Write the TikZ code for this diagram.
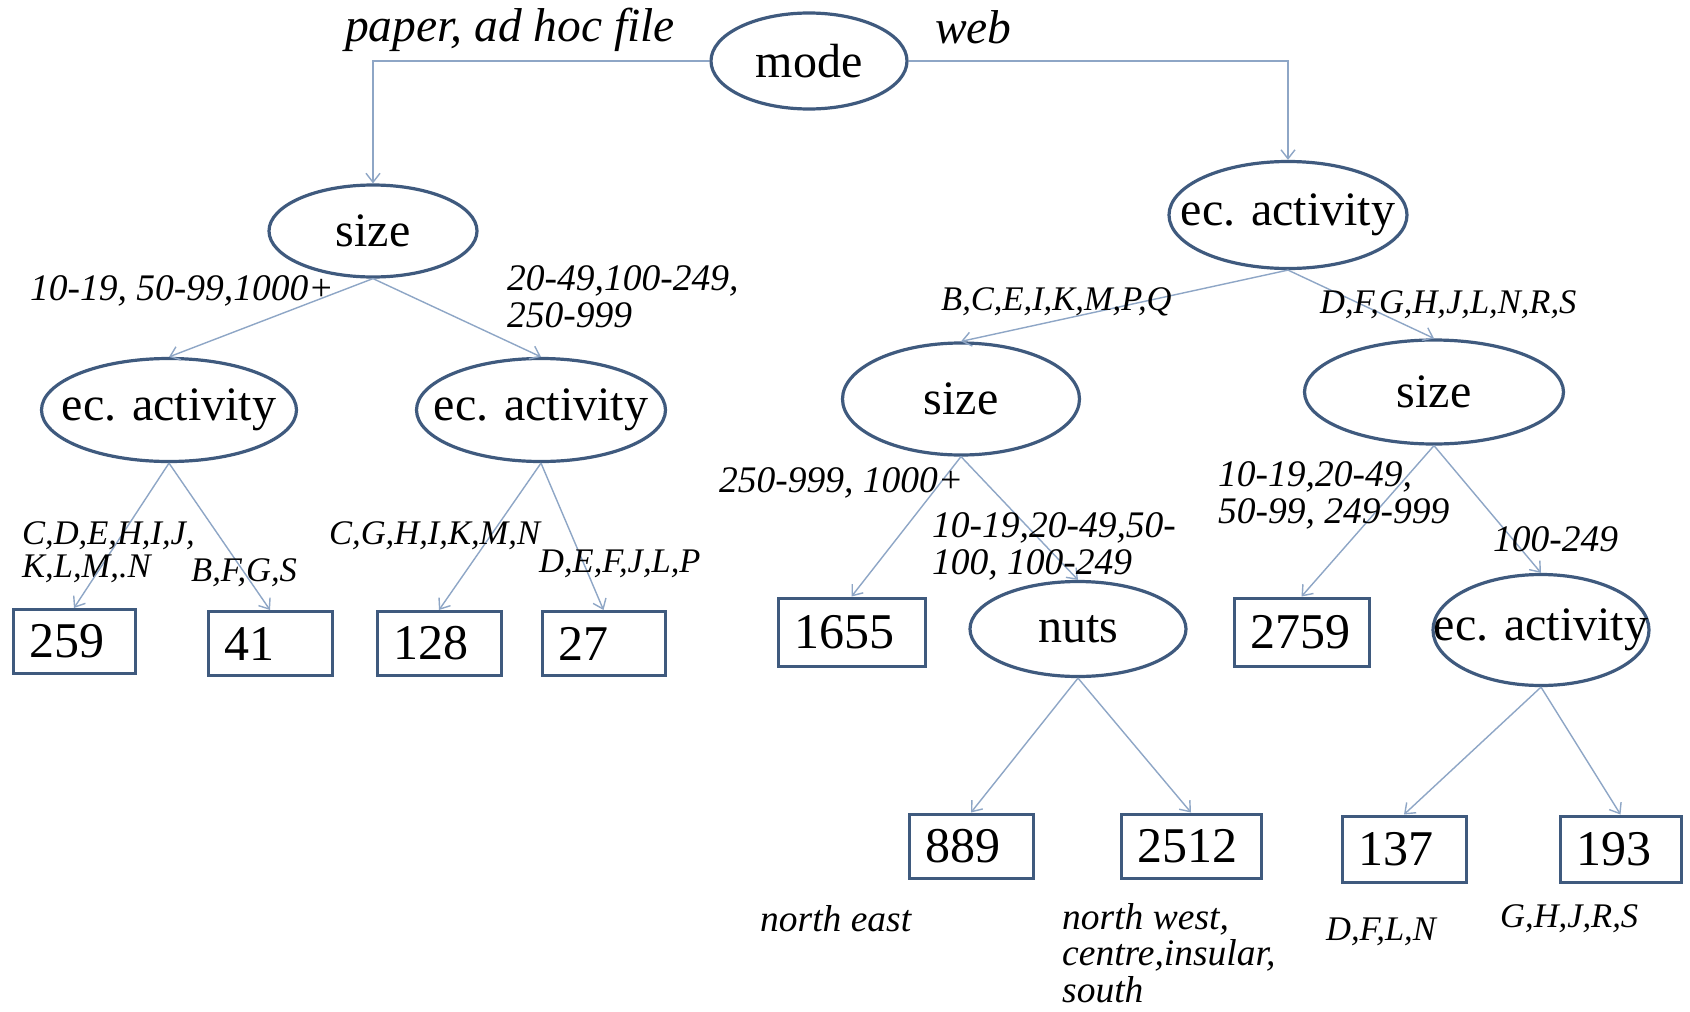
\documentclass[tikz,border=0pt]{standalone}
\usepackage{fontspec}
\setmainfont{Liberation Serif}
\usetikzlibrary{shapes.geometric,arrows.meta}
\definecolor{nodeline}{HTML}{3F5A7E}
\definecolor{connline}{HTML}{8EA6C6}
\newcommand{\zb}[1]{\makebox[0pt]{#1}}
\begin{document}
\begin{tikzpicture}[x=1pt,y=-1pt,
  ell/.style={draw=nodeline, line width=3.2pt, ellipse, inner sep=0pt, font=\fontsize{48}{48}\selectfont},
  leaf/.style={draw=nodeline, line width=3pt, rectangle, minimum height=64pt, inner xsep=16pt, inner ysep=0pt, text width=#1, align=left, font=\fontsize{50}{50}\selectfont},
  conn/.style={draw=connline, line width=1.4pt, -{Straight Barb[length=9pt,width=14pt]}},
  lblA/.style={anchor=west, inner sep=0pt, font=\fontsize{47.5}{47.5}\selectfont\itshape},
  lblB/.style={anchor=west, inner sep=0pt, align=left, font=\fontsize{37.5}{37.5}\selectfont\itshape},
  lblC/.style={anchor=west, inner sep=0pt, align=left, font=\fontsize{34.5}{33}\selectfont\itshape}
]
\useasboundingbox[fill=white] (0,0) rectangle (1690,1012);

% nodes
\node[ell, minimum width=196pt, minimum height=96pt] (mode) at (809,61) {\zb{mode}};
\node[ell, minimum width=208pt, minimum height=92pt] (sizeL) at (373,231) {\zb{size}};
\node[ell, minimum width=238pt, minimum height=107pt] (ecR) at (1288,215) {\zb{ec. activity}};
\node[ell, minimum width=255pt, minimum height=103pt] (ecL1) at (169,410) {\zb{ec. activity}};
\node[ell, minimum width=249pt, minimum height=103pt] (ecL2) at (541,410) {\zb{ec. activity}};
\node[ell, minimum width=237pt, minimum height=112pt] (sizeR1) at (961,399) {\zb{size}};
\node[ell, minimum width=259pt, minimum height=104pt] (sizeR2) at (1434,392) {\zb{size}};
\node[ell, minimum width=216pt, minimum height=95pt] (nuts) at (1078,629) {\zb{nuts}};
\node[ell, minimum width=216pt, minimum height=111pt] (ecR3) at (1541,630) {\zb{ec. activity}};

\node[leaf=90pt] (n259) at (74,641.5) {259};
\node[leaf=92pt] (n41) at (270,643.5) {41};
\node[leaf=92pt] (n128) at (439,643.5) {128};
\node[leaf=91pt] (n27) at (603.5,643.5) {27};
\node[leaf=115pt, minimum height=68pt] (n1655) at (851.5,632) {1655};
\node[leaf=103pt, minimum height=68pt] (n2759) at (1301.5,632) {2759};
\node[leaf=92pt] (n889) at (971,846) {889};
\node[leaf=108pt] (n2512) at (1191,846) {2512};
\node[leaf=92pt, minimum height=66pt] (n137) at (1404,849) {137};
\node[leaf=89pt, minimum height=66pt] (n193) at (1620.5,849) {193};

% connectors
\draw[conn] (mode.west) -| (sizeL.north);
\draw[conn] (mode.east) -| (ecR.north);
\draw[conn] (sizeL.south) -- (ecL1.north);
\draw[conn] (sizeL.south) -- (ecL2.north);
\draw[conn] (ecL1.south) -- (n259.north);
\draw[conn] (ecL1.south) -- (n41.north);
\draw[conn] (ecL2.south) -- (n128.north);
\draw[conn] (ecL2.south) -- (n27.north);
\draw[conn] (ecR.south) -- (sizeR1.north);
\draw[conn] (ecR.south) -- (sizeR2.north);
\draw[conn] (sizeR1.south) -- (n1655.north);
\draw[conn] (sizeR1.south) -- (nuts.north);
\draw[conn] (sizeR2.south) -- (n2759.north);
\draw[conn] (sizeR2.south) -- (ecR3.north);
\draw[conn] (nuts.south) -- (n889.north);
\draw[conn] (nuts.south) -- (n2512.north);
\draw[conn] (ecR3.south) -- (n137.north);
\draw[conn] (ecR3.south) -- (n193.north);

% labels
\node[lblA] (lpaper) at (345,30) {paper, ad hoc file};
\node[lblA] (lweb) at (935,27) {web};
\node[lblB] (l1) at (30,291) {10-19, 50-99,1000+};
\node[lblB] (l2) at (507,296.5) {20-49,100-249,\\250-999};
\node[lblC] (l3) at (941,302) {B,C,E,I,K,M,P,Q};
\node[lblC] (l4) at (1320,305) {D,F,G,H,J,L,N,R,S};
\node[lblC] (l5) at (22,552) {C,D,E,H,I,J,\\K,L,M,.N};
\node[lblC] (l6) at (191,573) {B,F,G,S};
\node[lblC] (l7) at (329,536) {C,G,H,I,K,M,N};
\node[lblC] (l8) at (539,564) {D,E,F,J,L,P};
\node[lblB] (l9) at (719,483) {250-999, 1000+};
\node[lblB] (l10) at (932,546.5) {10-19,20-49,50-\\100, 100-249};
\node[lblB] (l11) at (1218,495.5) {10-19,20-49,\\50-99, 249-999};
\node[lblB] (l12) at (1493,539) {100-249};
\node[lblB] (l13) at (760,919) {north east};
\node[lblB, font=\fontsize{37.5}{36.5}\selectfont\itshape] (l14) at (1062,953) {north west,\\centre,insular,\\south};
\node[lblC] (l15) at (1326,932) {D,F,L,N};
\node[lblC] (l16) at (1500,919) {G,H,J,R,S};
\end{tikzpicture}
\end{document}
